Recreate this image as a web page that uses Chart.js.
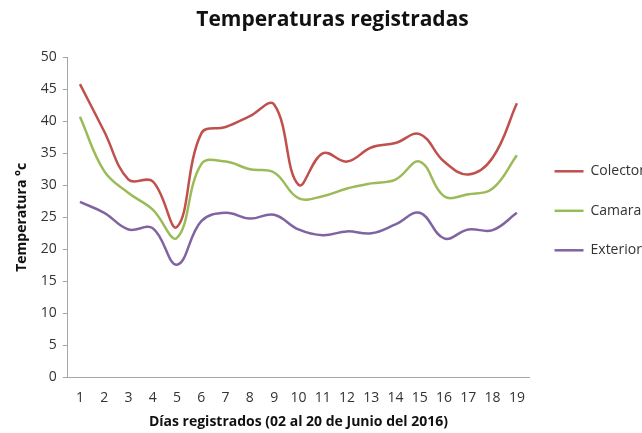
<!DOCTYPE html>
<html>
<head>
<meta charset="utf-8">
<script src="https://cdn.jsdelivr.net/npm/chart.js@4/dist/chart.umd.min.js"></script>
<style>
  html, body { margin: 0; padding: 0; background: #fff; }
  #wrap { width: 642px; height: 433px; }
</style>
</head>
<body>
<div id="wrap"><canvas id="myChart"></canvas></div>
<script>
var dias = ["1","2","3","4","5","6","7","8","9","10","11","12","13","14","15","16","17","18","19"];
var colector = [45.8, 38.4, 30.9, 30.6, 23.5, 38.1, 39.1, 40.8, 42.6, 30.1, 35.0, 33.7, 35.9, 36.6, 38.0, 33.7, 31.7, 34.3, 42.8];
var camara   = [40.7, 32.2, 28.8, 26.2, 21.8, 33.3, 33.7, 32.5, 32.0, 28.0, 28.3, 29.5, 30.3, 30.9, 33.7, 28.3, 28.6, 29.5, 34.7];
var exterior = [27.4, 25.7, 23.1, 23.3, 17.6, 24.4, 25.7, 24.8, 25.4, 23.1, 22.2, 22.8, 22.5, 23.9, 25.7, 21.7, 23.1, 23.0, 25.7];

var font = "'Open Sans', sans-serif";

new Chart("myChart", {
  type: "line",
  data: {
    labels: dias,
    datasets: [
      {label: "Colector", data: colector, borderColor: "#c0504d", backgroundColor: "#c0504d", borderWidth: 2.5},
      {label: "Camara", data: camara, borderColor: "#9bbb59", backgroundColor: "#9bbb59", borderWidth: 2.5},
      {label: "Exterior", data: exterior, borderColor: "#8064a2", backgroundColor: "#8064a2", borderWidth: 2.5}
    ]
  },
  options: {
    responsive: true,
    maintainAspectRatio: false,
    animation: false,
    elements: {
      line: {tension: 0.4, fill: false},
      point: {radius: 0}
    },
    layout: {padding: {left: 10, right: -13, top: 4, bottom: 1}},
    plugins: {
      title: {
        display: true,
        text: "Temperaturas registradas",
        color: "#111",
        font: {family: font, size: 21, weight: "bold"},
        padding: {top: 3, bottom: 25}
      },
      legend: {
        position: "right",
        align: "start",
        title: {display: true, text: " ", font: {size: 14}, padding: {top: 118, bottom: 0}},
        labels: {
          usePointStyle: true,
          pointStyle: "line",
          pointStyleWidth: 29,
          color: "#333",
          font: {family: font, size: 14},
          padding: 25.5
        }
      },
      tooltip: {enabled: false}
    },
    scales: {
      x: {
        offset: true,
        grid: {display: false},
        border: {display: true, color: "#a6a6a6"},
        ticks: {color: "#333", font: {family: font, size: 14}, maxRotation: 0, padding: 4},
        title: {
          display: true,
          text: "Días registrados (02 al 20 de Junio del 2016)",
          color: "#111",
          font: {family: font, size: 14, weight: "bold"},
          padding: {top: 3, bottom: 2}
        }
      },
      y: {
        min: 0,
        max: 50,
        ticks: {stepSize: 5, color: "#333", font: {family: font, size: 14}, padding: 6},
        grid: {drawOnChartArea: false, drawTicks: true, tickLength: 5, color: "#a6a6a6"},
        border: {display: true, color: "#a6a6a6"},
        title: {
          display: true,
          text: "Temperatura °c",
          color: "#111",
          font: {family: font, size: 14, weight: "bold"},
          padding: {bottom: 4}
        }
      }
    }
  }
});
</script>
</body>
</html>
